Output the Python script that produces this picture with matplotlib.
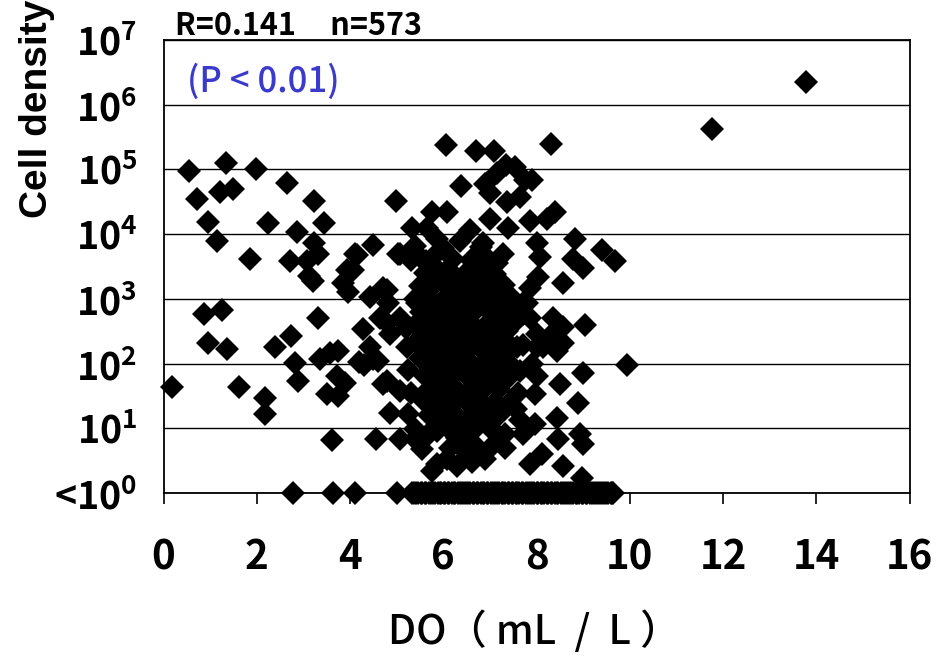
import numpy as np
import matplotlib
matplotlib.use("Agg")
import matplotlib.pyplot as plt
from matplotlib.ticker import NullLocator

plt.rcParams['font.family'] = ['Noto Sans CJK JP', 'DejaVu Sans']
plt.rcParams['mathtext.fontset'] = 'custom'
plt.rcParams['mathtext.rm'] = 'Noto Sans CJK JP:bold'
plt.rcParams['mathtext.it'] = 'Noto Sans CJK JP:bold'
plt.rcParams['mathtext.bf'] = 'Noto Sans CJK JP:bold'

# (DO, log10 cell density)
left_pts = [
    (0.19, 1.64), (0.54, 4.97), (0.71, 4.55), (0.96, 4.18), (1.14, 3.89), (1.22, 4.65),
    (1.35, 5.10), (1.48, 4.69), (0.86, 2.77), (1.26, 2.82), (0.96, 2.31), (1.37, 2.23),
    (1.61, 1.64), (1.86, 3.62), (1.99, 5.00), (2.25, 4.17), (2.18, 1.47), (2.18, 1.22),
    (2.40, 2.26), (2.65, 4.79), (2.72, 3.59), (2.74, 2.42), (2.83, 2.01), (2.87, 4.04),
    (2.89, 1.73), (3.08, 3.59), (3.11, 3.36), (3.21, 3.28), (3.23, 4.51), (3.23, 3.86),
    (3.32, 3.70), (3.32, 2.71), (3.36, 2.07), (3.45, 4.17), (3.51, 1.53), (3.58, 2.17),
    (3.62, 0.82), (3.73, 1.81), (3.75, 2.20), (3.75, 1.50), (3.86, 3.24), (3.90, 1.70),
    (3.94, 3.44), (3.96, 3.10), (4.07, 3.44), (4.11, 3.70), (4.15, 3.67), (4.20, 2.02),
    (4.28, 2.54), (4.30, 1.98), (4.43, 3.03), (4.43, 2.25), (4.50, 3.83), (4.50, 2.07),
    (4.55, 0.83), (4.60, 2.04), (4.65, 2.71), (4.71, 3.17), (4.71, 1.69), (4.80, 3.13),
    (4.80, 2.63), (4.80, 1.73), (4.82, 2.93), (4.86, 2.46), (4.86, 1.23), (4.99, 4.51),
]

upper_pts = [
    (6.06, 5.37), (6.70, 5.28), (7.09, 5.28), (8.31, 5.40), (6.37, 4.75),
    (7.54, 5.03), (7.76, 4.83), (7.65, 4.57), (7.37, 4.49), (7.00, 4.63), (6.90, 4.78),
    (7.16, 4.94), (7.91, 4.83), (7.35, 5.07), (7.00, 4.24), (8.40, 4.34), (8.22, 4.24),
    (7.86, 4.21), (7.39, 4.10), (5.76, 4.34), (6.08, 4.34), (5.33, 4.09), (5.65, 4.10),
    (5.87, 3.93), (8.82, 3.93), (9.40, 3.75), (9.68, 3.59), (9.00, 3.47), (8.78, 3.62),
    (8.57, 3.25), (9.04, 2.59),
]

mid_pts = [
    (5.03, 3.70), (5.08, 3.70), (5.50, 3.64), (5.78, 3.64), (6.36, 3.90), (6.58, 4.06),
    (6.85, 3.86), (7.28, 3.70), (7.15, 3.55), (8.01, 3.86), (8.07, 3.64), (8.03, 3.33),
    (7.86, 3.17), (7.71, 2.93), (7.50, 2.71), (7.37, 2.51), (7.86, 2.71), (8.35, 2.71),
    (8.44, 2.51), (8.57, 2.31), (8.01, 2.46), (8.14, 2.25), (7.58, 2.25), (7.43, 2.00),
    (5.08, 2.71), (5.44, 2.93), (5.57, 3.17), (5.78, 3.39), (6.08, 3.44), (6.36, 3.24),
    (6.73, 3.33), (6.94, 3.17), (6.85, 2.93), (6.43, 2.82), (6.00, 2.62), (5.65, 2.40),
    (5.50, 2.09), (5.23, 2.25), (5.93, 2.09), (6.36, 2.31), (6.73, 2.51), (7.09, 2.31),
    (7.00, 2.00), (6.58, 2.00), (6.15, 1.89), (5.08, 1.58), (5.25, 1.22), (5.08, 0.84),
    (5.40, 0.84), (5.61, 0.85), (5.76, 0.34), (6.08, 0.53), (6.90, 0.53), (7.86, 0.45),
    (8.12, 0.60), (8.57, 0.42), (8.93, 0.91), (9.00, 0.76), (8.46, 0.84), (8.44, 1.16),
    (8.89, 1.39), (8.50, 1.69), (7.97, 1.53), (9.00, 1.86), (9.94, 1.97), (7.65, 1.89),
    (7.90, 2.00), (8.00, 1.81), (8.00, 2.25), (8.44, 2.20), (8.57, 2.56), (8.29, 2.43),
    (7.71, 2.28), (7.43, 2.66), (7.71, 2.77), (7.80, 2.93), (5.87, 0.45), (7.15, 0.91),
    (7.32, 0.91), (7.71, 0.91), (7.97, 1.07), (7.65, 1.12), (5.40, 0.99), (5.87, 0.96),
    (6.30, 0.85), (6.58, 0.80), (7.32, 0.70), (8.98, 0.23),
    (5.55, 0.68), (6.15, 0.70), (6.45, 0.66), (6.75, 0.70), (7.05, 0.72), (6.30, 0.42),
    (6.62, 0.48), (5.30, 1.55), (5.25, 1.90), (5.20, 2.55), (7.60, 1.55), (7.55, 1.30),
]

core_pts = [
    (5.40, 3.82), (6.00, 3.78), (6.80, 3.80),
    (5.30, 3.60), (5.62, 3.58), (6.20, 3.62), (6.60, 3.60), (7.00, 3.58),
    (5.60, 3.40), (5.92, 3.42), (6.20, 3.38), (6.50, 3.41), (6.82, 3.40), (7.10, 3.38),
    (5.50, 3.20), (5.80, 3.22), (6.10, 3.19), (6.42, 3.21), (6.70, 3.18), (7.02, 3.20), (7.30, 3.22),
    (5.40, 3.00), (5.72, 3.01), (6.00, 2.98), (6.30, 3.02), (6.61, 3.00), (6.90, 2.99), (7.20, 3.01), (7.50, 3.00),
    (5.52, 2.80), (5.80, 2.81), (6.12, 2.79), (6.40, 2.80), (6.70, 2.82), (7.00, 2.80), (7.30, 2.78), (7.60, 2.80),
    (5.40, 2.60), (5.70, 2.61), (6.02, 2.59), (6.30, 2.60), (6.60, 2.62), (6.92, 2.60), (7.20, 2.59), (7.50, 2.61),
    (5.50, 2.40), (5.81, 2.41), (6.10, 2.39), (6.42, 2.40), (6.70, 2.41), (7.00, 2.40), (7.30, 2.38),
    (5.60, 2.20), (5.90, 2.21), (6.22, 2.19), (6.50, 2.20), (6.80, 2.22), (7.10, 2.20), (7.40, 2.19),
    (5.70, 2.00), (6.00, 2.01), (6.30, 1.99), (6.62, 2.00), (6.90, 2.02), (7.20, 2.00),
    (5.60, 1.80), (5.90, 1.81), (6.20, 1.79), (6.50, 1.80), (6.82, 1.81), (7.10, 1.80), (7.40, 1.79),
    (5.70, 1.60), (6.02, 1.61), (6.30, 1.59), (6.60, 1.60), (6.90, 1.62), (7.20, 1.60),
    (5.60, 1.40), (5.90, 1.41), (6.20, 1.39), (6.50, 1.40), (6.80, 1.41), (7.10, 1.40), (7.40, 1.39),
    (5.70, 1.20), (6.00, 1.21), (6.30, 1.19), (6.60, 1.20), (6.90, 1.22), (7.20, 1.20),
    (5.80, 1.00), (6.10, 1.01), (6.40, 0.99), (6.70, 1.00), (7.00, 1.01),
]

outlier_pts = [(11.76, 5.62), (13.79, 6.35)]

# samples below detection, drawn on the <10^0 line
nd_do = [
    2.78, 3.64, 4.11, 5.01, 5.33, 5.37, 5.42, 5.46, 5.52, 5.55, 5.61, 5.64, 5.70, 5.73,
    5.79, 5.82, 5.88, 5.92, 5.96, 6.01, 6.04, 6.10, 6.13, 6.19, 6.22, 6.26, 6.32, 6.35,
    6.41, 6.44, 6.49, 6.53, 6.58, 6.63, 6.66, 6.72, 6.75, 6.80, 6.85, 6.88, 6.94, 6.97,
    7.03, 7.06, 7.10, 7.16, 7.19, 7.25, 7.28, 7.33, 7.38, 7.41, 7.47, 7.50, 7.56, 7.59,
    7.63, 7.69, 7.72, 7.78, 7.81, 7.86, 7.91, 7.94, 8.00, 8.03, 8.09, 8.12, 8.16, 8.22,
    8.25, 8.31, 8.34, 8.40, 8.43, 8.47, 8.53, 8.56, 8.62, 8.65, 8.70, 8.75, 8.78, 8.84,
    8.87, 8.92, 8.97, 9.00, 9.06, 9.09, 9.15, 9.18, 9.23, 9.28, 9.31, 9.37, 9.40, 9.45,
    9.50, 9.53, 9.59, 9.62, 9.65,
]

pts = np.array(left_pts + upper_pts + mid_pts + core_pts + outlier_pts)
do_vals = np.concatenate([pts[:, 0], nd_do])
cells = np.concatenate([10 ** pts[:, 1], np.ones(len(nd_do))])

fig = plt.figure(figsize=(9.36, 6.58), dpi=100)
ax = fig.add_axes([0.1747, 0.2508, 0.797, 0.6884])

ax.plot(do_vals, cells, linestyle='none', marker='D', markersize=12,
        color='black', markeredgewidth=0, clip_on=False, zorder=3)

ax.set_yscale('log')
ax.set_ylim(1, 1e7)
ax.set_xlim(0, 16)
ax.set_xticks(range(0, 17, 2))
ax.set_yticks([10 ** k for k in range(8)])
ax.yaxis.set_minor_locator(NullLocator())
ylabels = ['<$\\mathregular{10^{0}}$'] + ['$\\mathregular{10^{%d}}$' % k for k in range(1, 8)]
ax.set_yticklabels(ylabels)
ax.grid(axis='y', color='black', linewidth=1.0)
ax.set_axisbelow(True)

ax.tick_params(axis='y', length=0, pad=19, labelsize=27)
ax.tick_params(axis='x', direction='out', length=8, width=1.2, pad=24, labelsize=29)
for lbl in ax.get_xticklabels() + ax.get_yticklabels():
    lbl.set_fontweight('bold')
for s in ax.spines.values():
    s.set_linewidth(1.3)
    s.set_color('black')

ax.text(0.0315, 0.907, '(P < 0.01)', transform=ax.transAxes, color='#3a3acc',
        fontsize=25, fontweight='medium', va='center', ha='left')
fig.text(175 / 936, 1 - 26 / 658, 'R=0.141     n=573', fontsize=22, fontweight='bold',
         ha='left', va='center')
fig.text(37 / 936, 1 - 218 / 658, 'Cell density', rotation=90, fontsize=28,
         fontweight='bold', family='Liberation Sans', ha='center', va='bottom')
fig.text(388 / 936, 1 - 632 / 658, 'DO（ mL  /  L ）', fontsize=29, fontweight='medium',
         ha='left', va='center')

fig.savefig('out.png', dpi=100)
